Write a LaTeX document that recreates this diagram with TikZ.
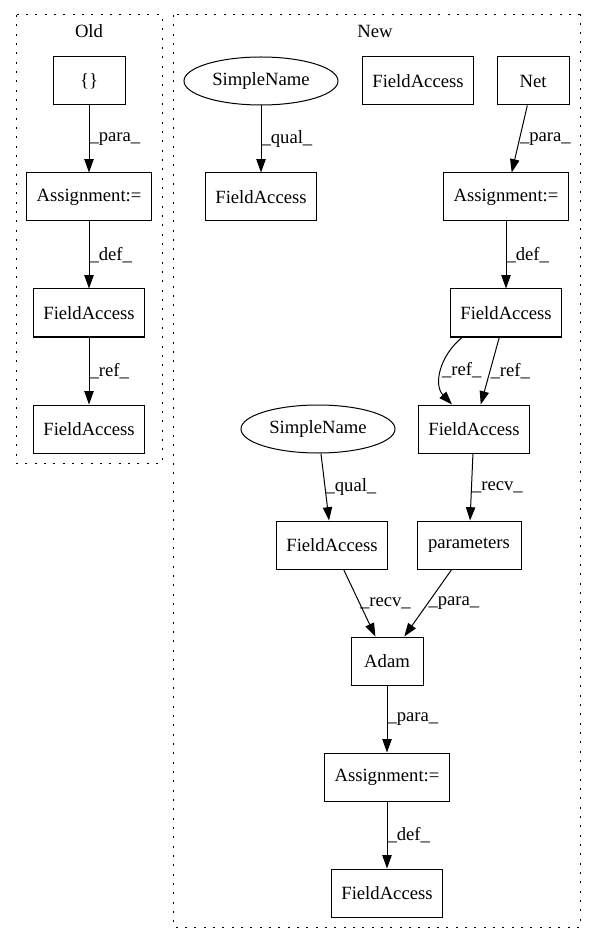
\documentclass[tikz,border=0pt]{standalone}
\usepackage{fontspec}
\setmainfont{Liberation Serif}
\usetikzlibrary{arrows.meta,calc,shapes.geometric}

\begin{document}
\begin{tikzpicture}[x=0.75pt,y=-0.75pt,
    every node/.style={font=\fontsize{14pt}{16pt}\selectfont},
    box/.style={draw,rectangle,line width=0.75pt,inner sep=0pt,minimum height=36pt},
    oval/.style={draw,ellipse,line width=0.75pt,inner sep=0pt,minimum height=36pt,minimum width=115.5pt},
    cluster/.style={draw,line width=0.75pt,dash pattern=on 1.5pt off 5.5pt},
    lbl/.style={anchor=west,inner sep=0pt},
    >={Triangle[length=10pt,width=7pt]},
    every edge/.style={draw,->,line width=0.75pt}]
    \useasboundingbox (0,0) rectangle (596,944);

    \draw[cluster] (16,15) rectangle (162,463);
    \node at (89,31) (old) {Old};
    \node[box,minimum width=54pt] at (89,81) (brace) {\{\}};
    \node[box,minimum width=94pt] at (89,197) (asgA) {Assignment:=};
    \node[box,minimum width=83pt] at (89,313) (faA) {FieldAccess};
    \node[box,minimum width=83pt] at (89,429) (faB) {FieldAccess};
    \path (brace) edge node[lbl] {\_para\_} (asgA);
    \path (asgA) edge node[lbl] {\_def\_} (faA);
    \path (faA) edge node[lbl] {\_ref\_} (faB);

    \draw[cluster] (173,15) rectangle (580,927);
    \node at (375,31) (new) {New};
    \node[oval] at (261,81) (snA) {SimpleName};
    \node[box,minimum width=83pt] at (418,81) (faC) {FieldAccess};
    \node[box,minimum width=54pt] at (533,81) (net) {Net};
    \node[box,minimum width=83pt] at (261,197) (faD) {FieldAccess};
    \node[box,minimum width=94pt] at (506,197) (asgB) {Assignment:=};
    \node[box,minimum width=83pt] at (506,313) (faE) {FieldAccess};
    \node[oval] at (318,429) (snB) {SimpleName};
    \node[box,minimum width=83pt] at (474,429) (faF) {FieldAccess};
    \node[box,minimum width=83pt] at (332,545) (faG) {FieldAccess};
    \node[box,minimum width=78pt] at (469,545) (params) {parameters};
    \node[box,minimum width=54pt] at (387,661) (adam) {Adam};
    \node[box,minimum width=94pt] at (387,777) (asgC) {Assignment:=};
    \node[box,minimum width=83pt] at (387,893) (faH) {FieldAccess};

    \path (snA) edge node[lbl] {\_qual\_} (faD);
    \path (net) edge node[lbl] {\_para\_} (asgB);
    \path (asgB) edge node[lbl] {\_def\_} (faE);
    \draw[->,line width=0.75pt] ($(faE.south)+(-44,0)$) .. controls +(-22,18) and +(-19,-20) .. node[lbl] {\_ref\_} ($(faF.north)+(-22,0)$);
    \path (faE) edge node[lbl] {\_ref\_} (faF);
    \path (snB) edge node[lbl] {\_qual\_} (faG);
    \path (faF) edge node[lbl] {\_recv\_} (params);
    \path (faG) edge node[lbl] {\_recv\_} (adam);
    \path (params) edge node[lbl] {\_para\_} (adam);
    \path (adam) edge node[lbl] {\_para\_} (asgC);
    \path (asgC) edge node[lbl] {\_def\_} (faH);
\end{tikzpicture}
\end{document}
